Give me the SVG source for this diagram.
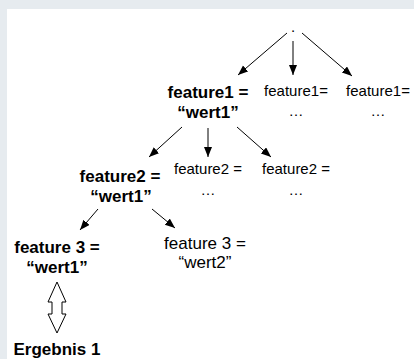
<svg xmlns="http://www.w3.org/2000/svg" width="414" height="359" viewBox="0 0 414 359">
<defs>
<style>
.t{font-family:"Liberation Sans",Arial,Helvetica,sans-serif;fill:#000;text-anchor:middle}
.b{font-weight:bold;font-size:17px}
.r{font-size:17px}
.s{font-size:15px}
.c{stroke:#000;stroke-width:1;fill:none}
</style>
<marker id="ah" markerUnits="userSpaceOnUse" markerWidth="12" markerHeight="10" refX="10" refY="4" orient="auto" viewBox="0 0 12 10">
<path d="M0,0 L10,4 L0,8 Z" fill="#000"/>
</marker>
</defs>
<rect x="0" y="0" width="414" height="359" fill="#e6ebef"/>
<rect x="7" y="9" width="407" height="350" fill="#fff"/>
<g id="connectors">
<line class="c" x1="287" y1="33" x2="238" y2="75" marker-end="url(#ah)"/>
<line class="c" x1="293" y1="41" x2="293" y2="75" marker-end="url(#ah)"/>
<line class="c" x1="302" y1="33" x2="352" y2="76" marker-end="url(#ah)"/>
<line class="c" x1="182" y1="127" x2="149" y2="157" marker-end="url(#ah)"/>
<line class="c" x1="208" y1="128" x2="208" y2="157" marker-end="url(#ah)"/>
<line class="c" x1="237" y1="127" x2="271" y2="157" marker-end="url(#ah)"/>
<line class="c" x1="98" y1="209" x2="80" y2="230" marker-end="url(#ah)"/>
<line class="c" x1="152" y1="209" x2="175" y2="228" marker-end="url(#ah)"/>
<path id="double-arrow" d="M57,282 L66,302 L62,302 L62,314 L66,314 L57,333 L48,314 L52,314 L52,302 L48,302 Z" fill="#fff" stroke="#000" stroke-width="1"/>
</g>
<g id="root"><text class="t s" x="293" y="32">.</text></g>
<g id="f1w1"><text class="t b" x="208" y="98">feature1 =</text><text class="t b" x="208" y="118">“wert1”</text></g>
<g id="f1a"><text class="t s" x="296" y="96">feature1=</text><text class="t s" x="296" y="116">…</text></g>
<g id="f1b"><text class="t s" x="378" y="96">feature1=</text><text class="t s" x="378" y="116">…</text></g>
<g id="f2w1"><text class="t b" x="120" y="182">feature2 =</text><text class="t b" x="121" y="202">“wert1”</text></g>
<g id="f2a"><text class="t s" x="208" y="174">feature2 =</text><text class="t s" x="208" y="195">…</text></g>
<g id="f2b"><text class="t s" x="296" y="174">feature2 =</text><text class="t s" x="296" y="195">…</text></g>
<g id="f3w1"><text class="t b" x="57" y="253">feature 3 =</text><text class="t b" x="57" y="273">“wert1”</text></g>
<g id="f3w2"><text class="t r" x="205" y="249">feature 3 =</text><text class="t r" x="205" y="268">“wert2”</text></g>
<g id="result"><text class="t b" x="57" y="355">Ergebnis 1</text></g>
</svg>
